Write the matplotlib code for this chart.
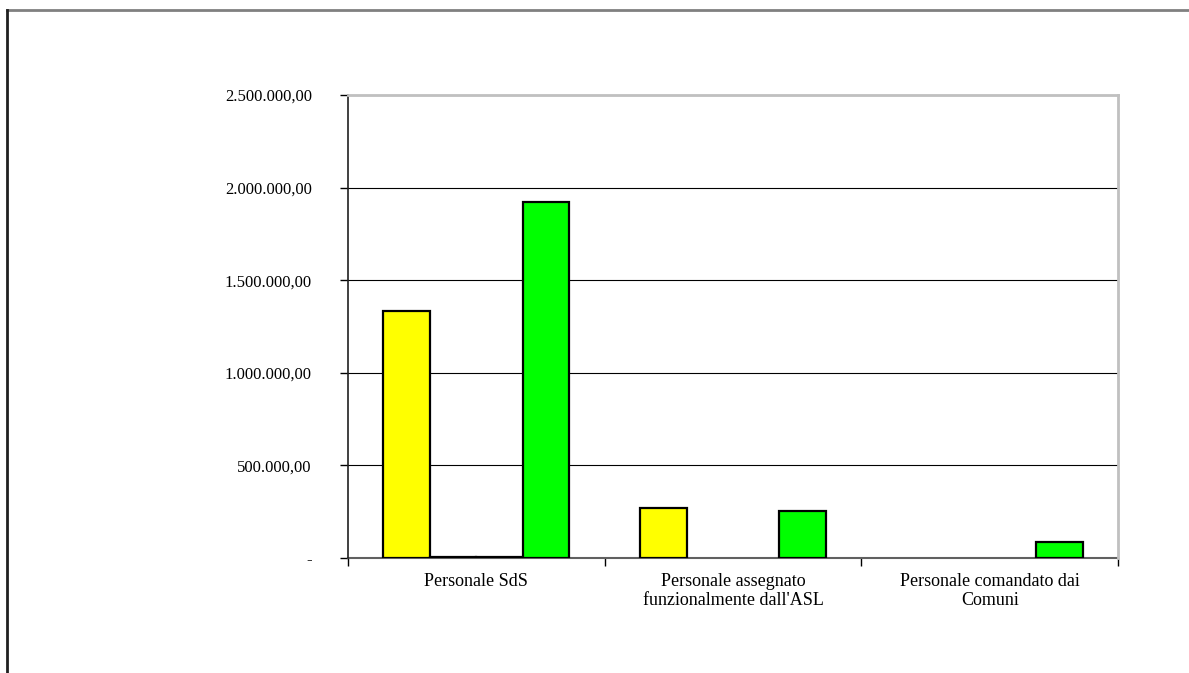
import numpy as np
import matplotlib.pyplot as plt
from matplotlib.ticker import FixedLocator, FuncFormatter
from matplotlib.lines import Line2D

categories = ["Personale SdS",
              "Personale assegnato\nfunzionalmente dall'ASL",
              "Personale comandato dai\nComuni"]
serie_a = [1333000, 270000, 0]
serie_b = [4000, 0, 0]
serie_c = [3000, 0, 0]
serie_d = [1922000, 254000, 86000]
series = [serie_a, serie_b, serie_c, serie_d]
colors = ["#ffff00", "#c0c0c0", "#c0c0c0", "#00ff00"]
yticks = [0, 500000, 1000000, 1500000, 2000000, 2500000]


def fmt(v, pos=None):
    if v == 0:
        return "-"
    s = f"{v:,.2f}"
    return s.replace(",", "X").replace(".", ",").replace("X", ".")


def main():
    plt.rcParams["font.family"] = ["Liberation Serif", "DejaVu Serif"]
    fig = plt.figure(figsize=(11.89, 6.73), dpi=100)
    ax = fig.add_axes([348 / 1189, 1 - 558 / 673, 770 / 1189, 463 / 673])

    x = np.arange(len(categories))
    w = 0.181
    for i, (vals, c) in enumerate(zip(series, colors)):
        lw = [1.6 if v > 0 else 0 for v in vals]
        ax.bar(x + (i - 1.5) * w, vals, w, color=c, edgecolor="black",
               linewidth=lw, zorder=3)

    ax.set_xlim(-0.5, 2.5)
    ax.set_ylim(0, 2500000)
    ax.yaxis.set_major_locator(FixedLocator(yticks))
    ax.yaxis.set_major_formatter(FuncFormatter(fmt))
    ax.grid(axis="y", color="black", linewidth=0.8, zorder=0)

    ax.set_xticks(x)
    ax.set_xticklabels(categories, fontsize=13, linespacing=1.1)
    ax.xaxis.set_minor_locator(FixedLocator([-0.5, 0.5, 1.5, 2.5]))
    ax.tick_params(axis="x", which="major", length=0, pad=11)
    ax.tick_params(axis="x", which="minor", length=6, width=1, direction="out")
    ax.tick_params(axis="y", length=6, width=1, direction="out",
                   labelsize=12, pad=20)

    ax.spines["left"].set_color("#202020")
    ax.spines["left"].set_linewidth(1.2)
    ax.spines["bottom"].set_color("#606060")
    ax.spines["bottom"].set_linewidth(1.5)
    for s in ("top", "right"):
        ax.spines[s].set_color("#c0c0c0")
        ax.spines[s].set_linewidth(2)
    ax.spines["bottom"].set_zorder(2)

    # chart area border
    fig.add_artist(Line2D([7 / 1189, 1], [1 - 10 / 673, 1 - 10 / 673],
                          color="#808080", linewidth=2, transform=fig.transFigure))
    fig.add_artist(Line2D([7 / 1189, 7 / 1189], [0, 1 - 10 / 673],
                          color="#202020", linewidth=2, transform=fig.transFigure))

    fig.savefig("out.png", dpi=100, facecolor="white")


if __name__ == "__main__":
    main()
